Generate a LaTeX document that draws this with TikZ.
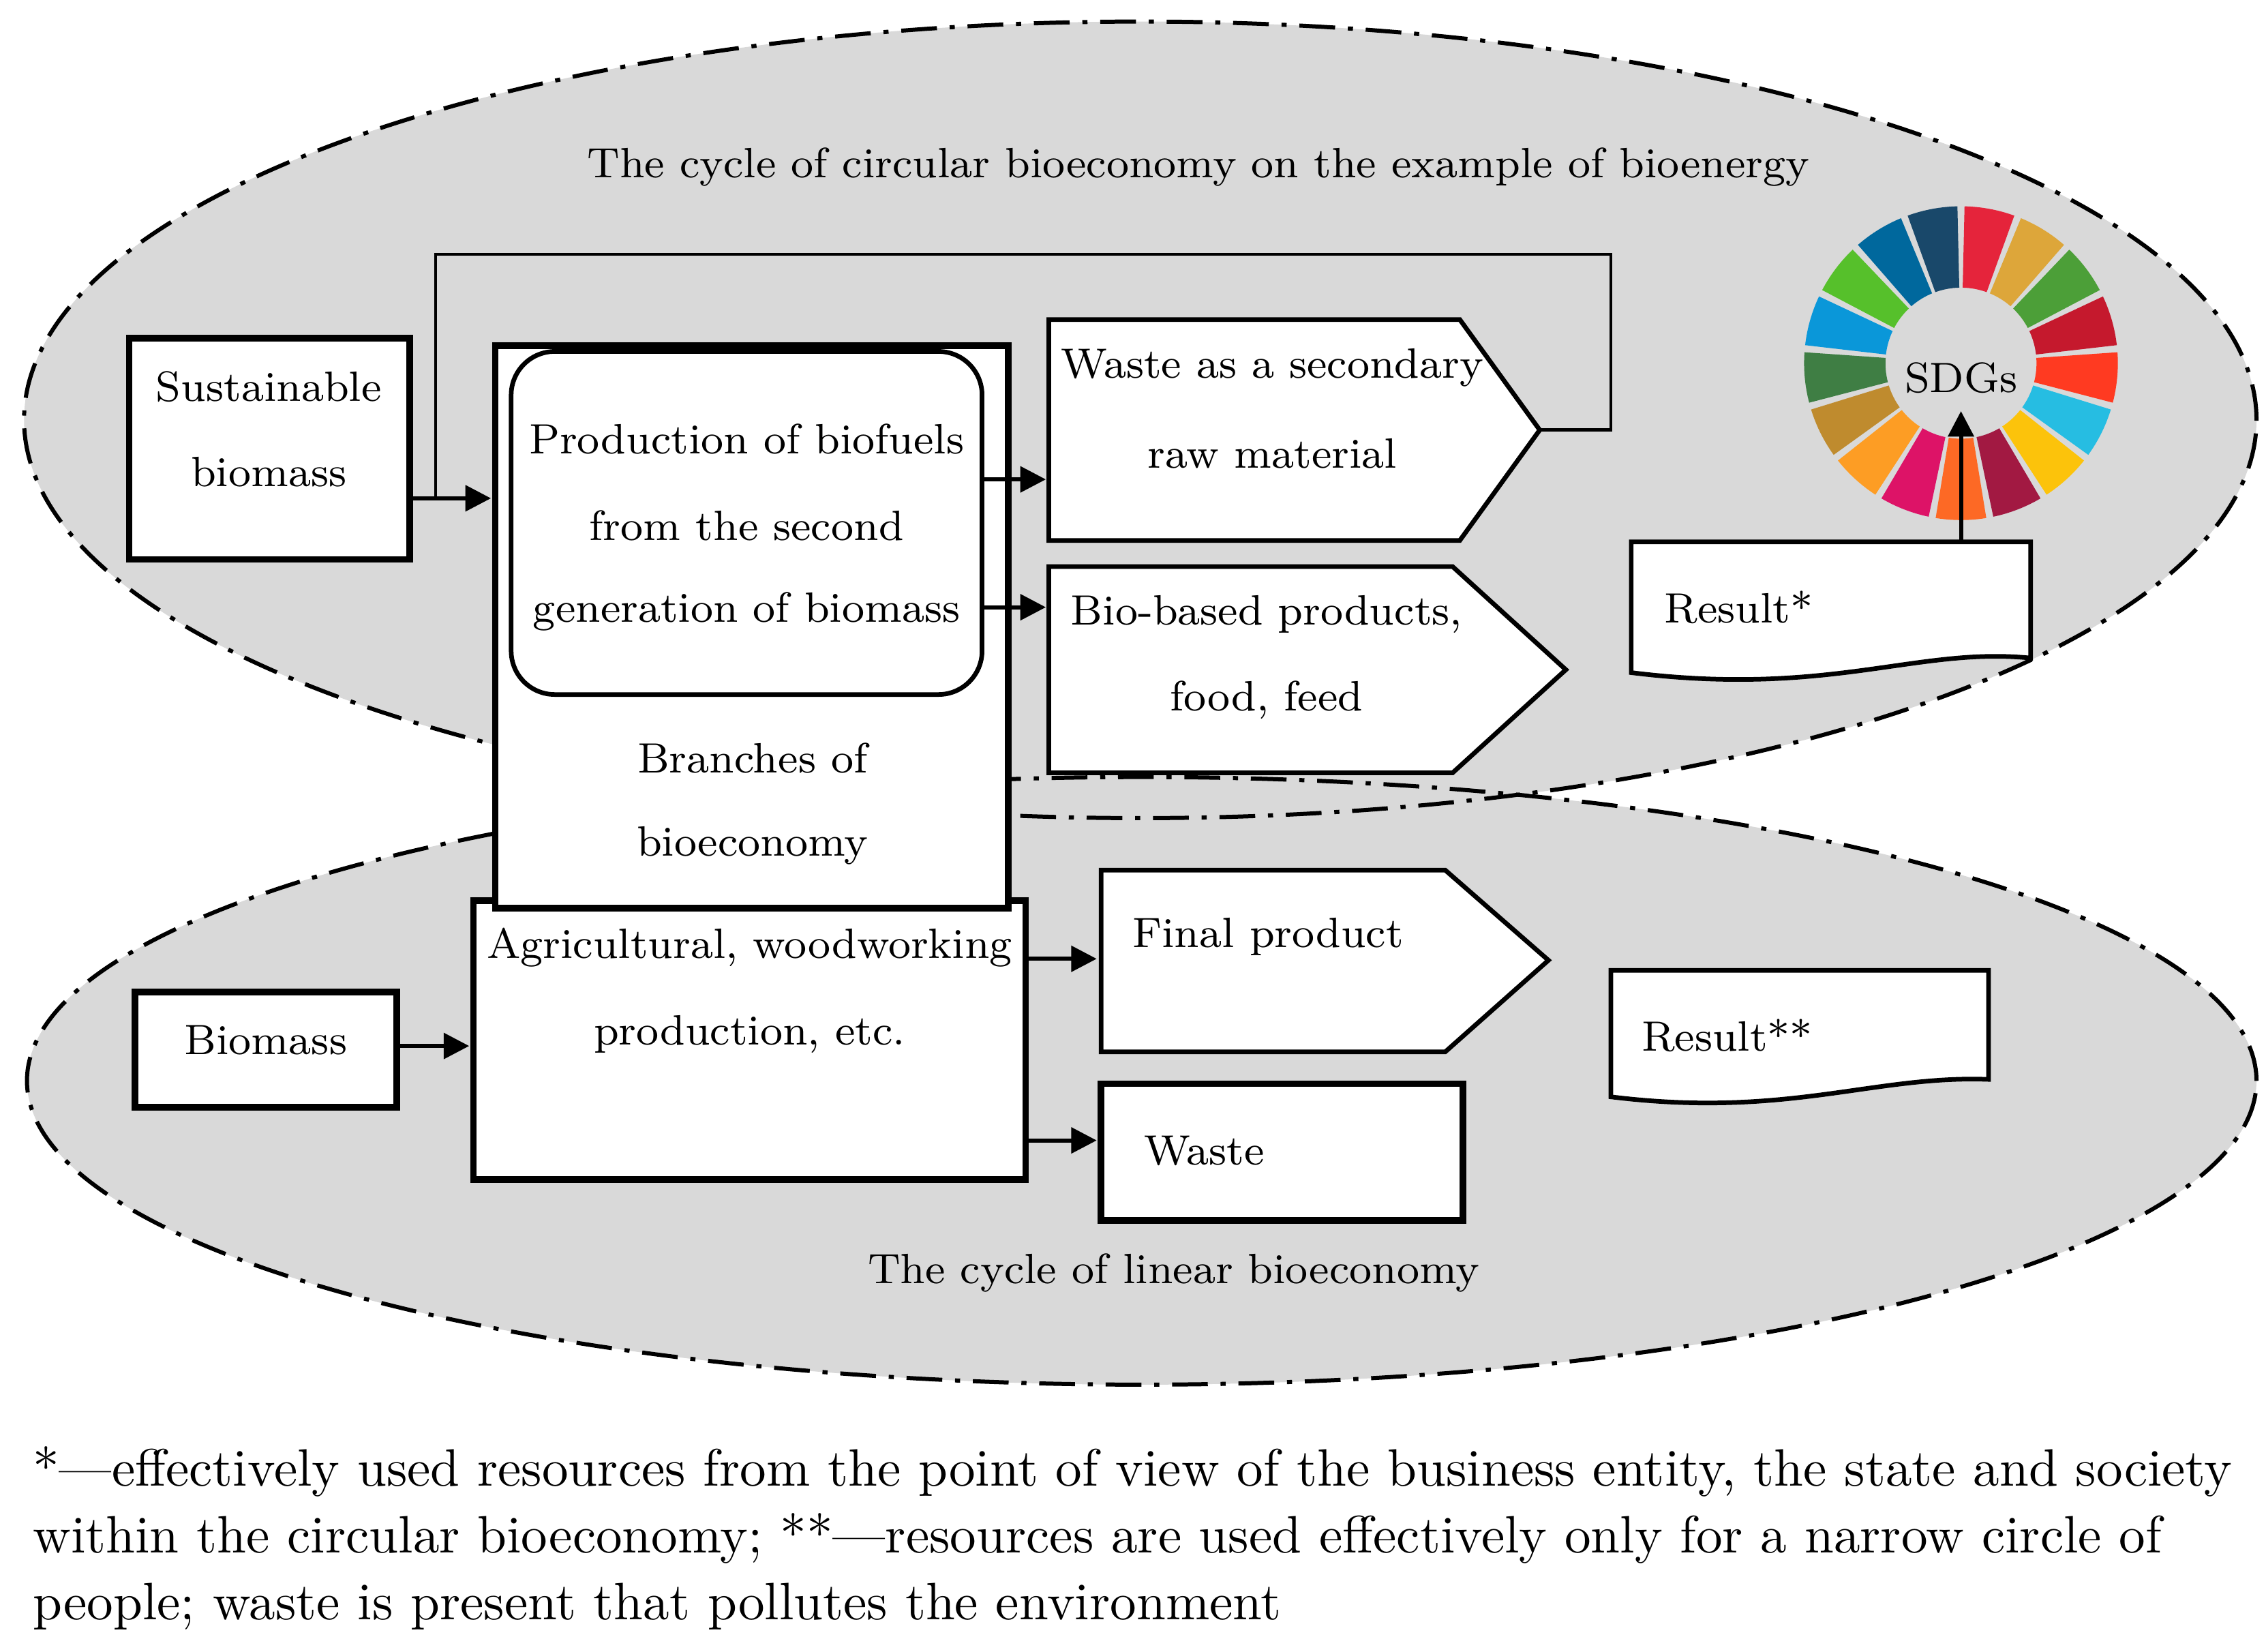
\documentclass[tikz,border=0pt]{standalone}
\usetikzlibrary{arrows.meta,shapes.geometric}
\definecolor{bg}{HTML}{D9D9D9}
\begin{document}
\begin{tikzpicture}[x=0.01cm,y=-0.01cm,
 ell/.style={line width=0.8pt,dash pattern=on 7pt off 2.5pt on 1pt off 2.5pt},
 box/.style={draw,line width=1.3pt,fill=white,inner sep=0pt},
 thinbox/.style={draw,line width=0.9pt,fill=white},
 txt/.style={font=\fontsize{8.3}{10}\selectfont,inner sep=0pt},
 arr/.style={line width=0.8pt,-{Triangle[length=5pt,width=5pt]}}]
\useasboundingbox (0,0) rectangle (1560,1137);
\fill[bg] (785,289) ellipse [x radius=7.68cm,y radius=2.74cm];
\fill[bg] (786,744) ellipse [x radius=7.67cm,y radius=2.09cm];
\draw[ell] (785,289) ellipse [x radius=7.68cm,y radius=2.74cm];
\draw[ell] (786,744) ellipse [x radius=7.67cm,y radius=2.09cm];
\node[txt] (t1) at (825,115) {The cycle of circular bioeconomy on the example of bioenergy};
\node[txt] (t2) at (808,876) {The cycle of linear bioeconomy};
% feedback line
\coordinate (fb) at (300,343);
\draw[line width=0.6pt] (fb) -- (300,175) -- (1109,175) -- (1109,296) -- (1060,296);
% sustainable
\node[box,minimum width=1.93cm,minimum height=1.52cm] (sust) at (185.5,309) {};
\node[txt] at (185,266) {Sustainable};
\node[txt] at (185,325) {biomass};
\draw[arr] (282,343) -- (338,343);
% agricultural
\node[box,minimum width=3.8cm,minimum height=1.92cm] (agr) at (516,716) {};
\node[txt] at (516,652) {Agricultural, woodworking};
\node[txt] at (516,712) {production, etc.};
% branches
\node[box,minimum width=3.53cm,minimum height=3.87cm] (br) at (517.5,431.5) {};
\node[draw,line width=0.9pt,fill=white,rounded corners=0.3cm,minimum width=3.24cm,minimum height=2.36cm] (prod) at (514,360) {};
\node[txt] at (514,302) {Production of biofuels};
\node[txt] at (514,362) {from the second};
\node[txt] at (514,421) {generation of biomass};
\node[txt] at (518,522) {Branches of};
\node[txt] at (518,582) {bioeconomy};
% pentagons
\draw[thinbox] (722,220) -- (1005,220) -- (1060,296) -- (1005,372) -- (722,372) -- cycle;
\node[txt] (w2) at (876,253) {Waste as a secondary};
\node[txt] at (876,312) {raw material};
\draw[thinbox] (722,390) -- (1000,390) -- (1078,461) -- (1000,532) -- (722,532) -- cycle;
\node[txt] (bb) at (872,423) {Bio-based products,};
\node[txt] at (872,482) {food, feed};
\draw[thinbox] (758,599) -- (995,599) -- (1066,661) -- (995,724) -- (758,724) -- cycle;
\node[txt] (fp) at (873,645) {Final product};
\draw[arr] (676,330) -- (720,330);
\draw[arr] (676,418) -- (720,418);
\draw[arr] (706,660) -- (755,660);
\draw[arr] (706,785) -- (755,785);
% waste
\draw[box] (758,746) rectangle (1007,840);
\node[txt,anchor=west] (ws) at (787,792) {Waste};
% biomass
\node[box,minimum width=1.8cm,minimum height=0.79cm] (bio) at (183,722.5) {};
\node[txt] at (183,716) {Biomass};
\draw[arr] (273,720) -- (323,720);
% results
\draw[thinbox] (1123,373) -- (1398,373) -- (1398,453) .. controls (1320,445) and (1260,480) .. (1123,463) -- cycle;
\node[txt] (r1) at (1197,418) {Result*};
\draw[thinbox] (1109,668) -- (1369,668) -- (1369,743) .. controls (1290,740) and (1230,770) .. (1109,755) -- cycle;
\node[txt] (r2) at (1189,713) {Result**};
% SDG wheel
\begin{scope}[shift={(1350,250)},x=0.01cm,y=0.01cm]
\foreach \c [count=\i] in {E5243B,DDA63A,4C9F38,C5192D,FF3A21,26BDE2,FCC30B,A21942,FD6925,DD1367,FD9D24,BF8B2E,3F7E44,0A97D9,56C02B,00689D,19486A}{
 \definecolor{sdg}{HTML}{\c}
 \pgfmathsetmacro\a{90-(\i-1)*360/17-1.3}
 \pgfmathsetmacro\b{90-\i*360/17+1.3}
 \fill[sdg] (\a:108) arc[start angle=\a,end angle=\b,radius=108] -- (\b:52) arc[start angle=\b,end angle=\a,radius=52] -- cycle;
}
\end{scope}
\node[txt] (sdg) at (1350,260) {SDGs};
\draw[arr] (1350,373) -- (1350,283);
% footnote
\node[anchor=north west,text width=15.3cm,inner sep=0pt,align=left,font=\fontsize{10.3}{13.1}\selectfont] (fn) at (22,995) {\hyphenpenalty=10000 *---effectively used resources from the point of view of the business entity, the state and society within the circular bioeconomy; **---resources are used effectively only for a narrow circle of people; waste is present that pollutes the environment};
\end{tikzpicture}
\end{document}
